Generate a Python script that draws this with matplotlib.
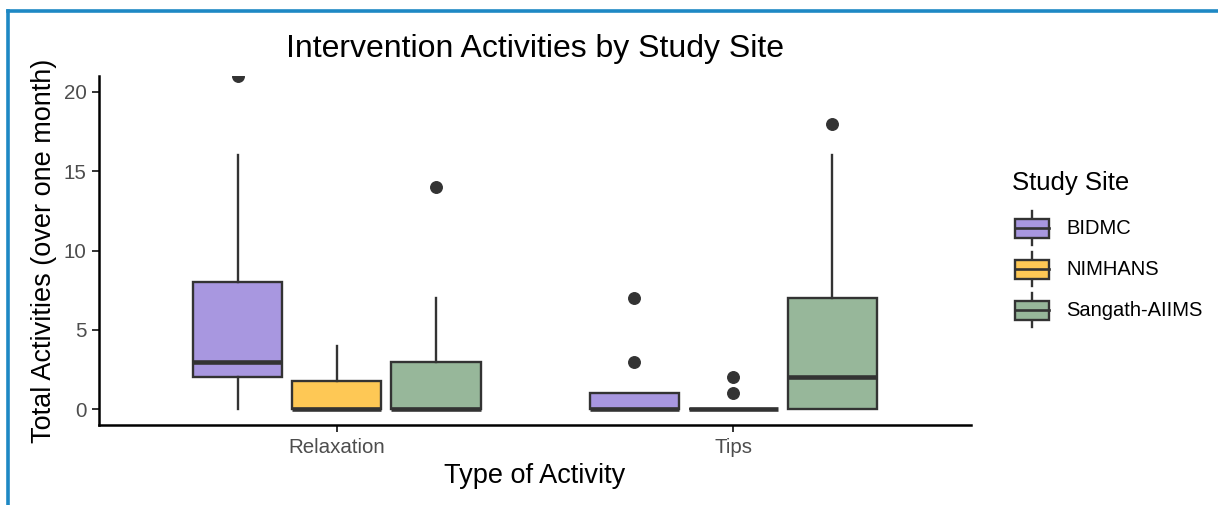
import matplotlib
matplotlib.use("Agg")
import matplotlib.pyplot as plt
from matplotlib.patches import Rectangle, Patch
from matplotlib.lines import Line2D
from matplotlib.legend_handler import HandlerBase

plt.rcParams['font.family'] = ['Liberation Sans', 'DejaVu Sans']

# Data: five-number summaries (whisker low, Q1, median, Q3, whisker high) and outliers
activities = ["Relaxation", "Tips"]
sites = ["BIDMC", "NIMHANS", "Sangath-AIIMS"]
site_colors = ["#A897E0", "#FEC855", "#97B79A"]

whislo = {"BIDMC": [0, 0], "NIMHANS": [0, 0], "Sangath-AIIMS": [0, 0]}
q1 = {"BIDMC": [2, 0], "NIMHANS": [0, 0], "Sangath-AIIMS": [0, 0]}
med = {"BIDMC": [3, 0], "NIMHANS": [0, 0], "Sangath-AIIMS": [0, 2]}
q3 = {"BIDMC": [8, 1], "NIMHANS": [1.75, 0], "Sangath-AIIMS": [3, 7]}
whishi = {"BIDMC": [16, 1], "NIMHANS": [4, 0], "Sangath-AIIMS": [7, 16]}
outliers = {"BIDMC": [[21], [3, 7]],
            "NIMHANS": [[], [1, 2]],
            "Sangath-AIIMS": [[14], [18]]}

ink = "#333333"
fig = plt.figure(figsize=(12.18, 5.05), dpi=100)
ax = fig.add_axes([0.0813, 0.1584, 0.7159, 0.6911])

dodge = 0.25
box_w = 0.225
for j, site in enumerate(sites):
    stats = []
    positions = []
    for i, act in enumerate(activities):
        stats.append(dict(whislo=whislo[site][i], q1=q1[site][i], med=med[site][i],
                          q3=q3[site][i], whishi=whishi[site][i],
                          fliers=outliers[site][i], label=act))
        positions.append(i + 1 + (j - 1) * dodge)
    ax.bxp(stats, positions=positions, widths=box_w, patch_artist=True,
           showcaps=False,
           boxprops=dict(facecolor=site_colors[j], edgecolor=ink, linewidth=1.7),
           medianprops=dict(color=ink, linewidth=3.3, solid_capstyle='butt'),
           whiskerprops=dict(color=ink, linewidth=1.7),
           flierprops=dict(marker='o', markerfacecolor=ink, markeredgecolor=ink,
                           markersize=8.3),
           manage_ticks=False, zorder=3)

ax.set_xlim(0.4, 2.6)
ax.set_ylim(-1.0, 21)
ax.set_xticks([1, 2])
ax.set_xticklabels(activities)
ax.set_yticks([0, 5, 10, 15, 20])
for s in ["top", "right"]:
    ax.spines[s].set_visible(False)
for s in ["left", "bottom"]:
    ax.spines[s].set_linewidth(1.8)
    ax.spines[s].set_color("black")
ax.tick_params(axis='both', length=5, width=1.4, color=ink, labelsize=14.8,
               labelcolor="#4D4D4D", pad=4)

ax.set_title("Intervention Activities by Study Site", fontsize=23, pad=13.5)
ax.set_xlabel("Type of Activity", fontsize=19.5, labelpad=5)
ax.set_ylabel("Total Activities (over one month)", fontsize=19.5, labelpad=5)


class BoxKeyHandler(HandlerBase):
    def create_artists(self, legend, orig_handle, xdescent, ydescent, width,
                       height, fontsize, trans):
        x0, y0 = -xdescent, -ydescent
        bh = height * 0.56
        by = y0 + (height - bh) / 2
        cx = x0 + width / 2
        w1 = Line2D([cx, cx], [y0, by], color=ink, lw=1.7, transform=trans)
        w2 = Line2D([cx, cx], [by + bh, y0 + height], color=ink, lw=1.7,
                    transform=trans)
        box = Rectangle((x0, by), width, bh, facecolor=orig_handle.get_facecolor(),
                        edgecolor=ink, lw=1.7, transform=trans)
        mid = Line2D([x0, x0 + width], [by + bh / 2] * 2, color=ink, lw=1.9,
                     transform=trans)
        return [w1, w2, box, mid]


# Legend title placed on its own, entries below it
fig.text(0.8305, 0.6376, "Study Site", fontsize=18.5, ha='left', va='center')
handles = [Patch(facecolor=c, label=s) for s, c in zip(sites, site_colors)]
leg = fig.legend(handles=handles, labels=sites, loc='upper left',
                 bbox_to_anchor=(0.825, 0.602), frameon=False,
                 fontsize=14.5, handler_map={Patch: BoxKeyHandler()},
                 handlelength=1.69, handleheight=2.22, labelspacing=0.35,
                 handletextpad=0.85, borderpad=0)

# Blue frame along the top and left edges
border = "#1E88C4"
fig.add_artist(Line2D([0.0066, 1.0], [0.978, 0.978], color=border, lw=2.6,
                      transform=fig.transFigure))
fig.add_artist(Line2D([0.0066, 0.0066], [0.0, 0.978], color=border, lw=2.6,
                      transform=fig.transFigure))

fig.savefig("out.png", dpi=100)
